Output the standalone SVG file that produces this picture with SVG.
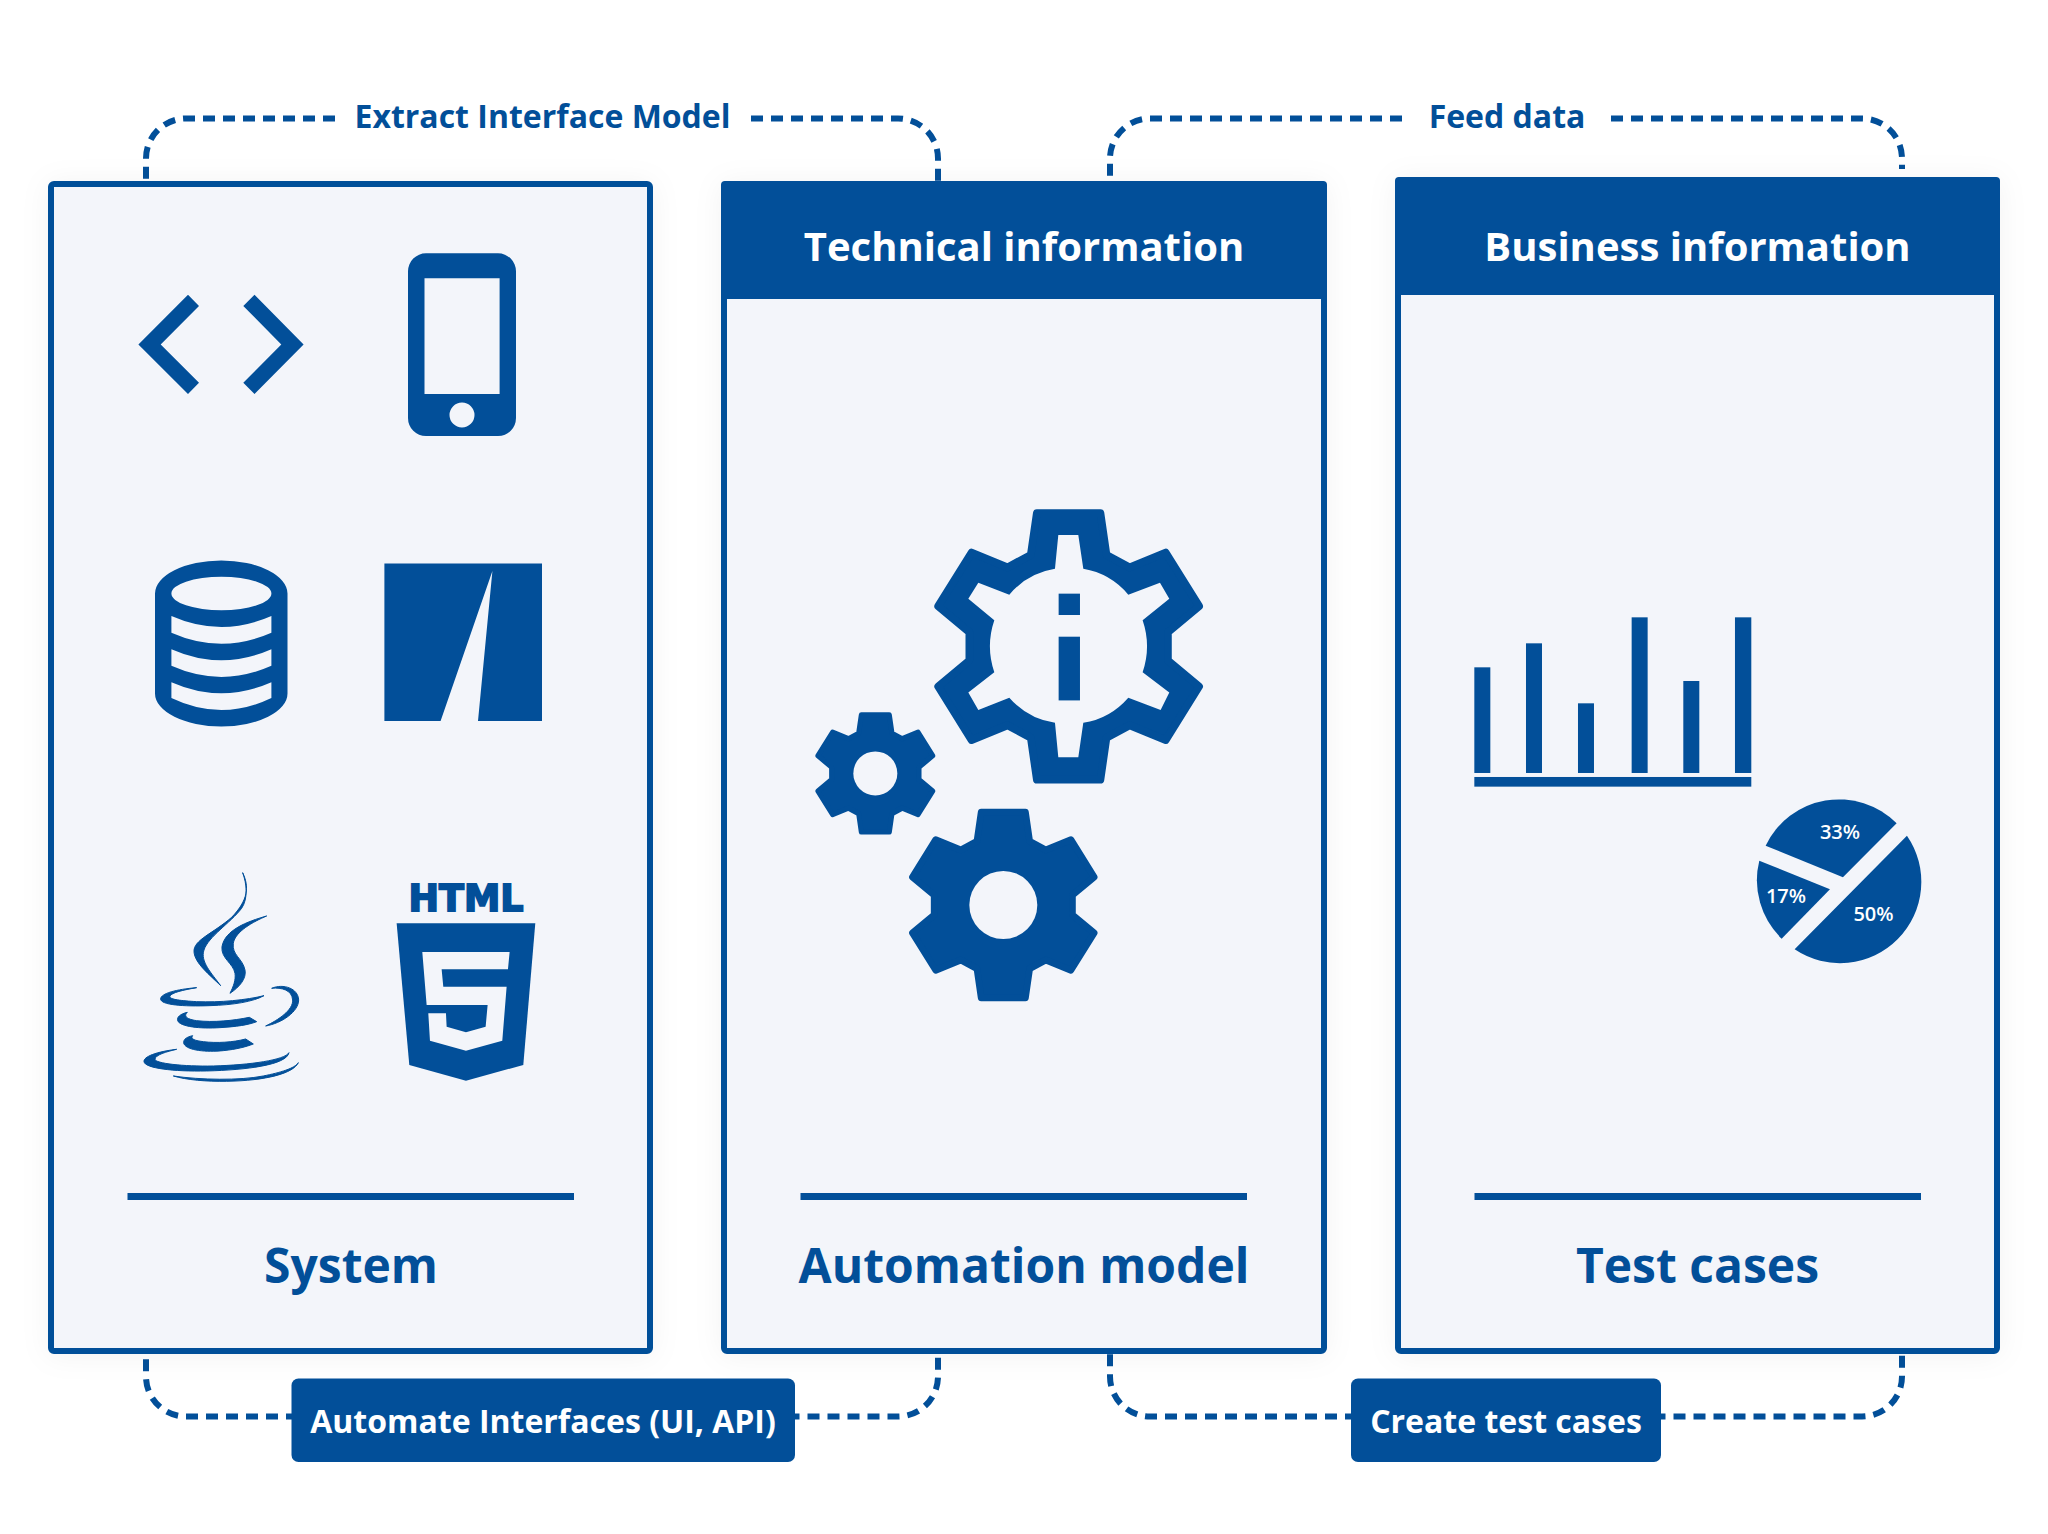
<svg xmlns="http://www.w3.org/2000/svg" width="2048" height="1534" viewBox="0 0 2048 1534">
<style>
text{font-family:"Open Sans","Noto Sans","Liberation Sans",sans-serif;font-weight:700;text-anchor:middle}
.ink{fill:#024f99}
.panel{fill:#f3f5fa;stroke:#024f99;stroke-width:6;filter:url(#soft)}
.rule{fill:#024f99}
.hdr{fill:#fff;font-size:40px}
.cap{fill:#024f99;font-size:48px}
.conn{fill:#024f99;font-size:32px}
.tag{fill:#fff;font-size:32px}
.pct{fill:#fff;font-size:20px;font-weight:600}
.dash{fill:none;stroke:#024f99;stroke-width:6;stroke-dasharray:12 8}
.hole{fill:#f3f5fa}
.gear{fill:#024f99;stroke:#024f99;stroke-linejoin:round;stroke-width:24}
</style>
<defs>
<filter id="soft" x="-10%" y="-10%" width="120%" height="120%"><feDropShadow dx="0" dy="2" stdDeviation="14" flood-color="#000" flood-opacity="0.05"/></filter>
<polygon id="gearOutline" points="-100,-405 100,-405 119,-278 192,-240 305,-285 410,-122 312,-43 312,43 410,122 305,285 192,240 119,278 100,405 -100,405 -119,278 -192,240 -305,285 -410,122 -312,43 -312,-43 -410,-122 -305,-285 -192,-240 -119,-278"/>
</defs>
<rect width="2048" height="1534" fill="#fff"/>
<g id="connectors">
<path class="dash" d="M335,118.5H186A40,40 0 0 0 146,158.5V181"/>
<path class="dash" d="M751,118.5H898A40,40 0 0 1 938,158.5V181"/>
<path class="dash" d="M1402,118.5H1150A40,40 0 0 0 1110,158.5V181"/>
<path class="dash" d="M1611,118.5H1862A40,40 0 0 1 1902,158.5V169"/>
<path class="dash" stroke-dashoffset="6" d="M292,1416.5H186A40,40 0 0 1 146,1376.5V1354"/>
<path class="dash" stroke-dashoffset="7.5" d="M795,1416.5H898A40,40 0 0 0 938,1376.5V1354"/>
<path class="dash" stroke-dashoffset="6" d="M1351,1416.5H1150A40,40 0 0 1 1110,1376.5V1354"/>
<path class="dash" stroke-dashoffset="7.5" d="M1661,1416.5H1862A40,40 0 0 0 1902,1376.5V1354"/>
</g>
<g id="label-extract"><text class="conn" x="542.5" y="127.5">Extract Interface Model</text></g>
<g id="label-feed"><text class="conn" x="1507" y="127.5">Feed data</text></g>
<g id="node-system">
<rect class="panel" x="51" y="184" width="599" height="1167" rx="3"/>
<rect class="rule" x="127.5" y="1193" width="446.5" height="7"/>
<text class="cap" x="351" y="1283">System</text>
<g id="icon-code" class="ink">
<polygon points="138.4,344.4 188,294.8 199,306 160.7,344.4 199,382.8 188,394"/>
<polygon points="303.6,344.4 254.5,294.8 243.3,306 281.3,344.4 243.3,382.8 254.5,394"/>
</g>
<path id="icon-phone" class="ink" fill-rule="evenodd" d="M426,253.3H498A18,18 0 0 1 516,271.3V418A18,18 0 0 1 498,436H426A18,18 0 0 1 408,418V271.3A18,18 0 0 1 426,253.3ZM424.5,278.3V394H499.6V278.3ZM462,402.5A12.5,12.5 0 1 0 462,427.5A12.5,12.5 0 1 0 462,402.5Z"/>
<path id="icon-db" class="ink" fill-rule="evenodd" d="M155,593.5A66.25,33 0 0 1 287.5,593.5V693.5A66.25,33 0 0 1 155,693.5ZM171.4,593.5A50,16.7 0 0 0 271.4,593.5A50,16.7 0 0 0 171.4,593.5ZM171.4,616Q221.4,638 271.4,616V632.7Q221.4,654.7 171.4,632.7ZM171.4,649.3Q221.4,671.3 271.4,649.3V665.8Q221.4,688 171.4,665.8ZM171.4,682.3Q221.4,704.3 271.4,682.3V698Q221.4,722 171.4,698Z"/>
<path id="icon-road" class="ink" d="M384.4,563.6H542V721H478L492.4,571L440.6,721H384.4Z"/>
<g id="icon-java" class="ink" stroke="#024f99" stroke-width="3" stroke-linejoin="round" transform="translate(100,830) scale(.3333)">
<path d="M428,128C448,170 445,210 395,262C340,310 280,330 282,365C284,400 330,435 362,467C335,430 300,395 312,360C325,320 390,280 425,235C445,205 440,160 428,128Z"/>
<path d="M500,258C440,275 375,300 366,350C362,385 400,400 405,430C408,450 400,470 390,490C420,470 440,445 435,420C428,385 395,375 400,340C405,305 460,275 500,258Z"/>
<path d="M290,473C230,478 182,490 182,507C182,525 250,530 330,527C400,525 460,515 492,497C440,510 360,518 290,515C240,512 205,508 210,498C215,488 250,480 290,473Z"/>
<path d="M515,475C550,460 595,475 596,510C596,545 545,580 497,588C535,570 580,540 578,510C576,480 545,472 515,475Z"/>
<path d="M262,547C240,552 230,562 233,572C240,590 300,597 360,593C410,590 445,585 470,575L448,562C400,572 340,578 290,572C260,568 250,558 262,547Z"/>
<path d="M278,617C255,622 248,632 252,642C262,662 320,667 370,662C410,658 440,650 460,642L437,627C400,637 350,640 310,635C285,632 270,627 278,617Z"/>
<path d="M230,658C170,665 130,680 132,695C135,715 220,725 320,723C440,720 560,705 567,668C555,690 450,705 340,708C250,710 165,700 165,688C165,675 200,665 230,658Z"/>
<path d="M220,738C300,750 420,752 490,738C540,728 585,715 595,698C580,730 500,752 380,754C320,755 260,750 220,738Z"/>
</g>
<g id="icon-html">
<text x="466" y="911" font-size="37" textLength="115" lengthAdjust="spacingAndGlyphs" style="font-family:'DejaVu Sans',sans-serif;font-weight:700;fill:#024f99;stroke:#024f99;stroke-width:1.8">HTML</text>
<g transform="translate(100,830) scale(.3333)">
<polygon class="ink" points="890,280 1306,280 1270,705 1098,752 928,705"/>
<polygon class="hole" points="967,366 1229,366 1224,418 1025,418 1030,470 1220,470 1207,632 1098,662 990,632 985,550 1038,550 1040,590 1098,607 1157,590 1163,525 980,525"/>
</g>
</g>
</g>
<g id="node-technical">
<rect class="panel" x="724" y="184" width="600" height="1167" rx="3"/>
<path class="ink" d="M725,181H1323A4,4 0 0 1 1327,185V299H721V185A4,4 0 0 1 725,181Z"/>
<text class="hdr" x="1024" y="261">Technical information</text>
<rect class="rule" x="800.5" y="1193" width="446.5" height="7"/>
<text class="cap" x="1024" y="1283">Automation model</text>
<g id="icon-gears" transform="translate(780,480) scale(.3333,.3444)">
<use href="#gearOutline" class="gear" transform="translate(866,483) scale(.955)"/>
<path class="hole" d="M835,160H895L910,258A228,228 0 0 1 1045,333L1140,298L1168,345L1088,407A228,228 0 0 1 1088,558L1168,617L1142,668L1045,632A228,228 0 0 1 910,705L895,805H835L825,705A228,228 0 0 1 688,632L595,668L565,617L643,558A228,228 0 0 1 643,407L565,345L595,298L688,333A228,228 0 0 1 825,258Z"/>
<rect class="ink" x="836" y="330" width="64" height="62"/>
<rect class="ink" x="836" y="455" width="64" height="185"/>
<use href="#gearOutline" class="gear" style="stroke-width:36" transform="translate(286,852) scale(.42)"/>
<ellipse class="hole" cx="286" cy="852" rx="66" ry="64"/>
<use href="#gearOutline" class="gear" style="stroke-width:30" transform="translate(670,1234) scale(.665)"/>
<ellipse class="hole" cx="670" cy="1234" rx="102" ry="99"/>
</g>
</g>
<g id="node-business">
<rect class="panel" x="1398" y="180" width="599" height="1171" rx="3"/>
<path class="ink" d="M1399,177H1996A4,4 0 0 1 2000,181V295H1395V181A4,4 0 0 1 1399,177Z"/>
<text class="hdr" x="1697.5" y="261">Business information</text>
<rect class="rule" x="1474.5" y="1193" width="446.5" height="7"/>
<text class="cap" x="1697.5" y="1283">Test cases</text>
<g id="icon-charts" transform="translate(1440,590) scale(.3333)">
<rect class="ink" x="103" y="232" width="48" height="317"/>
<rect class="ink" x="258" y="160" width="48" height="389"/>
<rect class="ink" x="414" y="340" width="48" height="209"/>
<rect class="ink" x="575" y="82" width="48" height="467"/>
<rect class="ink" x="730" y="273" width="48" height="276"/>
<rect class="ink" x="885" y="82" width="49" height="467"/>
<rect class="ink" x="103" y="561" width="831" height="29"/>
<path class="ink" d="M977,767A244,244 0 0 1 1370,700L1209,862Z"/>
<path class="ink" d="M1401,737A244,244 0 0 1 1064,1078Z"/>
<path class="ink" d="M958,812L1170,898L1025,1046A244,244 0 0 1 958,812Z"/>
</g>
<text class="pct" x="1840" y="838.5">33%</text>
<text class="pct" x="1786" y="902.5">17%</text>
<text class="pct" x="1873.5" y="920.5">50%</text>
</g>
<g id="node-automate">
<rect class="ink" x="291.5" y="1378.5" width="503.5" height="83.5" rx="7"/>
<text class="tag" x="543" y="1432.5">Automate Interfaces (UI, API)</text>
</g>
<g id="node-create">
<rect class="ink" x="1351" y="1378.5" width="310" height="83.5" rx="7"/>
<text class="tag" x="1506" y="1432.5">Create test cases</text>
</g>
</svg>
